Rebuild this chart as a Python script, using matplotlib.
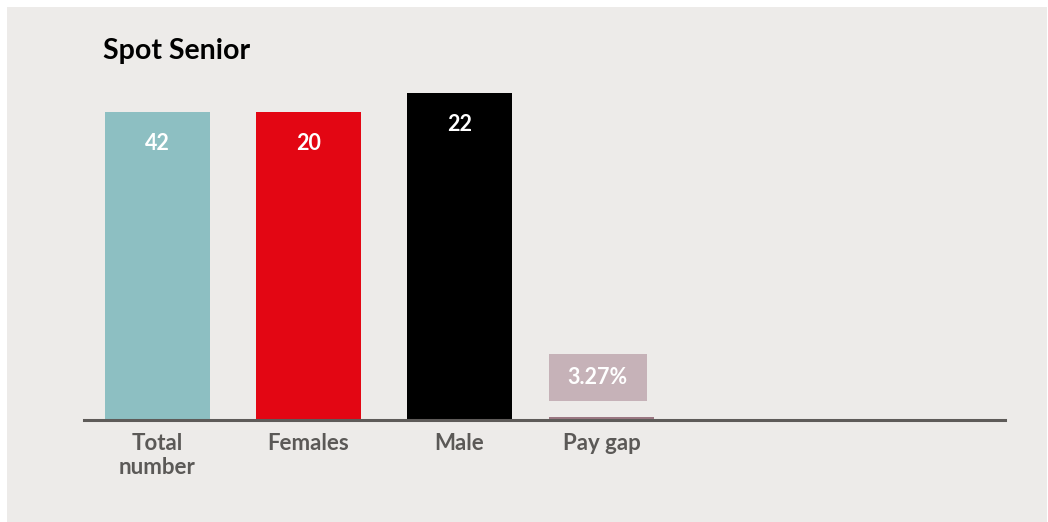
import matplotlib.pyplot as plt
from matplotlib.patches import Rectangle

# data
categories = ["Total\nnumber", "Females", "Male", "Pay gap"]
value_labels = ["42", "20", "22", "3.27%"]
# bar lengths as drawn in the original (not to scale with the labels)
bar_heights = [308, 308, 327, 3]
colors = ["#8DBFC2", "#E30613", "#000000", "#9B7782"]

bg = "#EDEBE9"
text_grey = "#5B5957"

fig = plt.figure(figsize=(10.48, 5.22), dpi=100)
fig.patch.set_facecolor("white")
fig.add_artist(Rectangle((7 / 1048, 0), 1040 / 1048, 515 / 522,
                         transform=fig.transFigure, facecolor=bg,
                         edgecolor="none", zorder=0))

# axes placed in pixel terms: baseline at y=420, from x=84 to x=1005
ax = fig.add_axes([84 / 1048, (522 - 420) / 522, 921 / 1048, 340 / 522])
ax.set_facecolor("none")
ax.set_xlim(-0.487, 5.613)
ax.set_ylim(0, 340)

# the pay gap bar sits a little closer to the others in the original
x = [0, 1, 2, 2.94]
ax.bar(x, bar_heights, width=0.7, color=colors, zorder=2)

for i in range(3):
    ax.text(x[i], bar_heights[i] - 31, value_labels[i], ha="center", va="center",
            color="white", fontsize=15.5, fontweight="bold", family="Lato")

# pay gap label sits in a box above the thin bar
px = x[3] - 0.35
ax.add_patch(Rectangle((px, 19), 0.65, 47, facecolor="#C6B2B8",
                       edgecolor="none", zorder=2))
ax.text(px + 0.325, 43, value_labels[3], ha="center", va="center",
        color="white", fontsize=15.5, fontweight="bold", family="Lato")

for s in ["top", "right", "left"]:
    ax.spines[s].set_visible(False)
ax.spines["bottom"].set_color("#5E5B59")
ax.spines["bottom"].set_linewidth(2.2)
ax.set_yticks([])
ax.set_xticks(x)
ax.set_xticklabels(categories, fontsize=16, fontweight="bold",
                   color=text_grey, family="Lato", linespacing=1.2)
ax.tick_params(axis="x", length=0, pad=9)

fig.text(103 / 1048, 1 - 51 / 522, "Spot Senior", ha="left", va="center",
         fontsize=20.5, fontweight="bold", family="Lato", color="black")

fig.savefig("out.png", dpi=100, facecolor=fig.get_facecolor())
